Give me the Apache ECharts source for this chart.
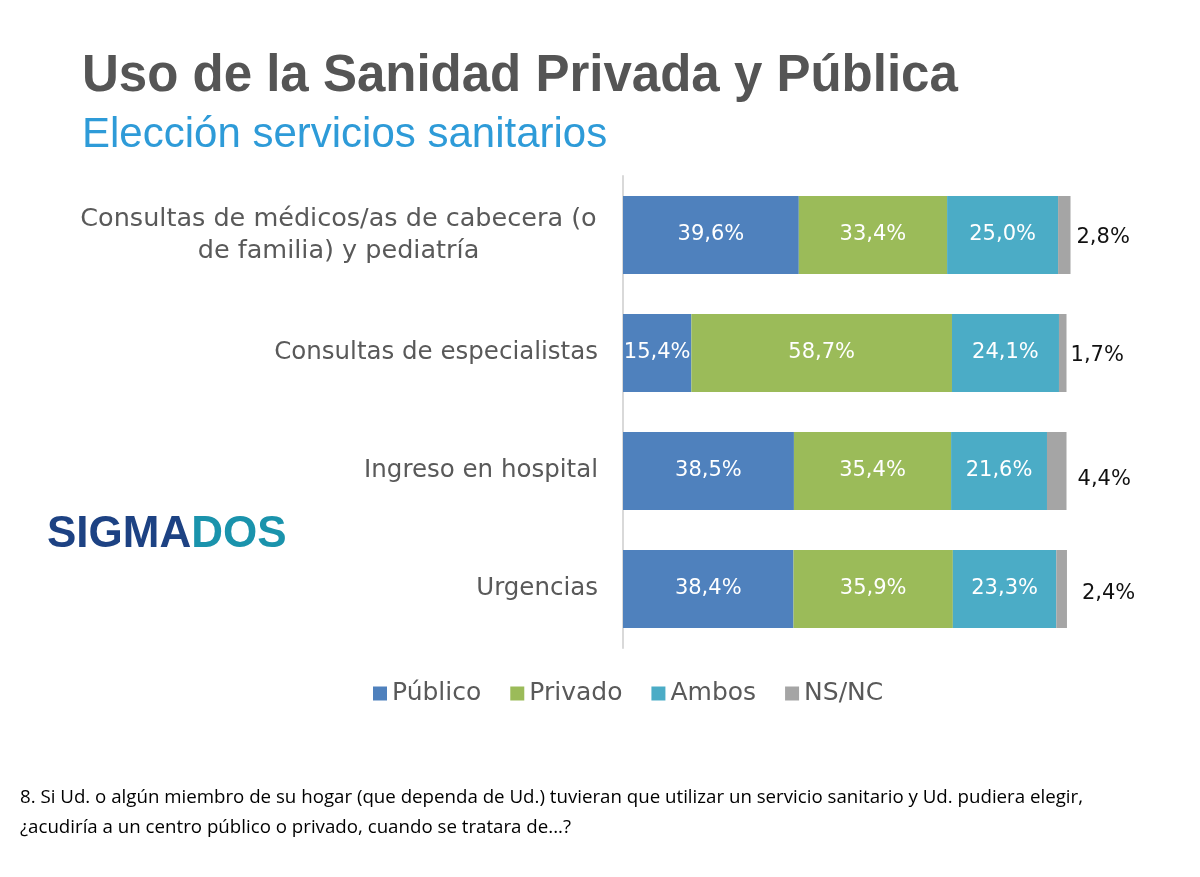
<!DOCTYPE html>
<html>
<head>
<meta charset="utf-8">
<script src="https://cdn.jsdelivr.net/npm/echarts@6/dist/echarts.min.js"></script>
<style>
html,body{margin:0;padding:0;background:#fff;}
#main{width:1200px;height:877px;}
</style>
</head>
<body>
<div id="main"></div>
<script>
var categories = [
  'Consultas de médicos/as de cabecera (o\nde familia) y pediatría',
  'Consultas de especialistas',
  'Ingreso en hospital',
  'Urgencias'
];
var seriesNames = ['Público', 'Privado', 'Ambos', 'NS/NC'];
var publico = [39.6, 15.4, 38.5, 38.4];
var privado = [33.4, 58.7, 35.4, 35.9];
var ambos   = [25.0, 24.1, 21.6, 23.3];
var nsnc    = [2.8, 1.7, 4.4, 2.4];
var colors = ['#4F81BD', '#9BBB59', '#4BACC6', '#A5A5A5'];

var titleText = 'Uso de la Sanidad Privada y Pública';
var subtitleText = 'Elección servicios sanitarios';
var footnote = '8. Si Ud. o algún miembro de su hogar (que dependa de Ud.) tuvieran que utilizar un servicio sanitario y Ud. pudiera elegir,\n¿acudiría a un centro público o privado, cuando se tratara de...?';

var chart = echarts.init(document.getElementById('main'), null, {renderer: 'canvas'});
var fmt = function (p) { return p.value.toFixed(1).replace('.', ',') + '%'; };
var catFont = 'DejaVu Sans';
var valFont = 'DejaVu Sans';

function inner(name, data, color, labelColor) {
  return {
    name: name, type: 'bar', stack: 'total', data: data, barWidth: 78,
    itemStyle: {color: color},
    label: {show: true, position: 'inside', formatter: fmt, color: labelColor,
            fontFamily: valFont, fontSize: 21}
  };
}

var option = {
  backgroundColor: '#ffffff',
  animation: false,
  title: {
    text: titleText, subtext: subtitleText,
    left: 77, top: 46, itemGap: 12,
    textStyle: {fontFamily: 'Liberation Sans', fontWeight: 'bold', fontSize: 51, color: '#555555'},
    subtextStyle: {fontFamily: 'Liberation Sans', fontSize: 42, color: '#2E9BD8'}
  },
  legend: {
    data: seriesNames, left: 368, top: 676, icon: 'rect',
    itemWidth: 14, itemHeight: 14, itemGap: 29,
    textStyle: {fontFamily: catFont, fontSize: 25, color: '#595959'}
  },
  grid: {left: 623, top: 176, width: 448.4, height: 472},
  xAxis: {type: 'value', min: 0, max: 101, show: false},
  yAxis: {
    type: 'category', data: categories, inverse: true,
    axisLine: {show: true, lineStyle: {color: '#D9D9D9', width: 2}},
    axisTick: {show: false},
    axisLabel: {
      margin: 25, fontFamily: catFont, fontSize: 24.5, color: '#595959',
      formatter: function (v) {
        if (v.indexOf('\n') >= 0) {
          return v.split('\n').map(function (s) { return '{c|' + s + '}'; }).join('\n');
        }
        return v;
      },
      rich: {c: {width: 519, align: 'center', fontFamily: catFont, fontSize: 25.5, color: '#595959', lineHeight: 32}}
    }
  },
  series: [
    inner(seriesNames[0], publico, colors[0], '#ffffff'),
    inner(seriesNames[1], privado, colors[1], '#ffffff'),
    inner(seriesNames[2], ambos, colors[2], '#ffffff'),
    {
      name: seriesNames[3], type: 'bar', stack: 'total', barWidth: 78,
      itemStyle: {color: colors[3]},
      data: nsnc.map(function (v, i) {
        var off = [[0, 3], [-2, 3], [5, 9], [9, 5]][i];
        return {value: v, label: {offset: off}};
      }),
      label: {show: true, position: 'right', distance: 6, formatter: fmt,
              color: '#111111', fontFamily: valFont, fontSize: 21}
    }
  ],
  graphic: [
    {
      type: 'text', left: 47, top: 513,
      style: {
        text: '{a|SIGMA}{b|DOS}',
        rich: {
          a: {fontFamily: 'Liberation Sans', fontWeight: 'bold', fontSize: 44, fill: '#1D4283'},
          b: {fontFamily: 'Liberation Sans', fontWeight: 'bold', fontSize: 44, fill: '#1A93AC'}
        }
      }
    },
    {
      type: 'text', left: 20, top: 783,
      style: {text: footnote, fontFamily: 'Open Sans', fontSize: 18.7, lineHeight: 30, fill: '#000000'}
    }
  ]
};
chart.setOption(option);
</script>
</body>
</html>
